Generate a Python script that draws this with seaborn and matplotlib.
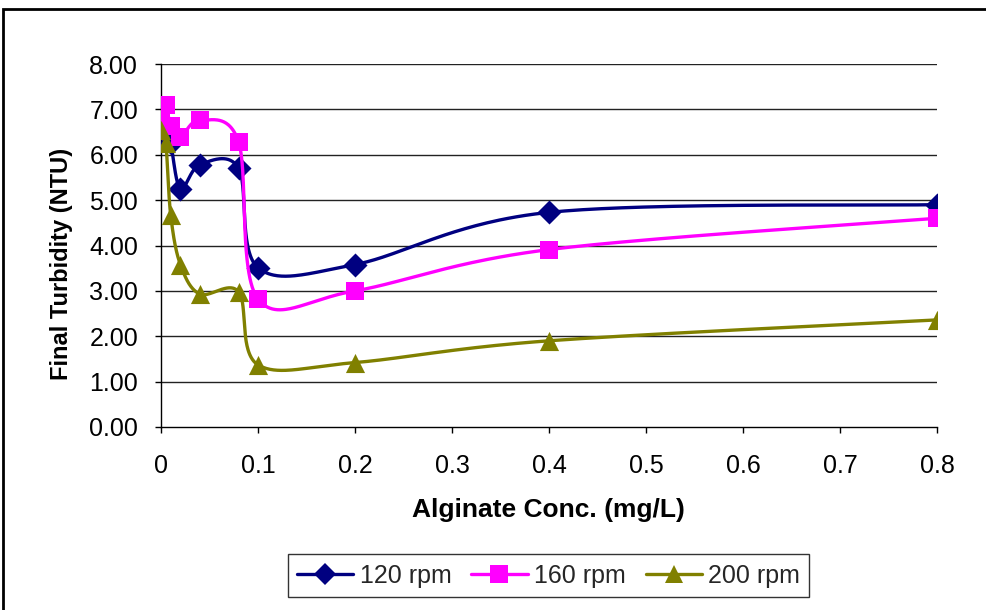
import numpy as np
import matplotlib
matplotlib.use("Agg")
import matplotlib.pyplot as plt
from matplotlib.lines import Line2D
from matplotlib.patches import Rectangle
import seaborn as sns

# Alginate dose (mg/L) and final turbidity (NTU) at three mixing speeds
alginate = [0, 0.005, 0.01, 0.02, 0.04, 0.08, 0.1, 0.2, 0.4, 0.8]
rpm_120 = [6.60, 6.50, 6.25, 5.25, 5.78, 5.70, 3.51, 3.58, 4.73, 4.90]
rpm_160 = [6.87, 7.10, 6.63, 6.40, 6.76, 6.28, 2.82, 3.00, 3.91, 4.60]
rpm_200 = [6.55, 6.25, 4.67, 3.58, 2.93, 2.98, 1.37, 1.42, 1.90, 2.36]

series_names = ["120 rpm", "160 rpm", "200 rpm"]
x_ticks = [0, 0.1, 0.2, 0.3, 0.4, 0.5, 0.6, 0.7, 0.8]
x_tick_labels = ["0", "0.1", "0.2", "0.3", "0.4", "0.5", "0.6", "0.7", "0.8"]
y_ticks = [0, 1, 2, 3, 4, 5, 6, 7, 8]

sns.set_theme(style="white")
plt.rcParams["font.family"] = ["Liberation Sans", "DejaVu Sans"]

W, H = 987, 610
fig = plt.figure(figsize=(W / 100, H / 100), dpi=100)
ax = fig.add_axes([161 / W, 1 - 427 / H, (937 - 161) / W, (427 - 64) / H])
ax.set_xlim(0, 0.8)
ax.set_ylim(0, 8)

# pixel scale of each axis, so the smoothing is done in screen space
ax_px_w = (937 - 161)
ax_px_h = (427 - 64)
sx = ax_px_w / 0.8
sy = ax_px_h / 8.0


def smooth_curve(xs, ys, n=60):
    """Cubic Bezier (Catmull-Rom) smoothing through every point."""
    P = np.column_stack([np.asarray(xs, float) * sx, np.asarray(ys, float) * sy])
    out = []
    last = len(P) - 1
    t = np.linspace(0, 1, n)[:, None]
    for i in range(last):
        p0 = P[max(i - 1, 0)]
        p1 = P[i]
        p2 = P[i + 1]
        p3 = P[min(i + 2, last)]
        c1 = p1 + (p2 - p0) / 6.0
        c2 = p2 - (p3 - p1) / 6.0
        seg = ((1 - t) ** 3) * p1 + 3 * ((1 - t) ** 2) * t * c1 \
            + 3 * (1 - t) * (t ** 2) * c2 + (t ** 3) * p2
        out.append(seg if i == 0 else seg[1:])
    pts = np.vstack(out)
    return pts[:, 0] / sx, pts[:, 1] / sy


styles = [
    (rpm_120, "#000080", "D", 150),
    (rpm_160, "#FF00FF", "s", 175),
    (rpm_200, "#808000", "^", 190),
]

# horizontal gridlines
for yv in y_ticks[1:]:
    ax.axhline(yv, color="#222222", lw=1.0, zorder=1)

z = 3
handles = []
for (vals, color, mk, size), name in zip(styles, series_names):
    cx, cy = smooth_curve(alginate, vals)
    sns.lineplot(x=cx, y=cy, sort=False, estimator=None, color=color,
                 lw=2.4, ax=ax, zorder=z)
    sns.scatterplot(x=alginate, y=vals, marker=mk, s=size, color=color,
                    edgecolor=color, linewidth=0, ax=ax, zorder=z + 1)
    z += 2
    handles.append(Line2D([0], [0], color=color, lw=2.4, marker=mk,
                          markersize=np.sqrt(size) * 0.95, markeredgewidth=0))

ax.set_xticks(x_ticks)
ax.set_xticklabels(x_tick_labels)
ax.set_yticks(y_ticks)
ax.set_yticklabels([f"{v:.2f}" for v in y_ticks])
ax.tick_params(axis="both", which="major", direction="out", length=4.5,
               width=1.0, color="black", labelsize=18, labelcolor="black",
               bottom=True, left=True)
ax.tick_params(axis="x", pad=15)
ax.tick_params(axis="y", pad=12)

for side in ("top", "right"):
    ax.spines[side].set_visible(False)
for side in ("left", "bottom"):
    ax.spines[side].set_color("black")
    ax.spines[side].set_linewidth(1.0)
ax.set_xlabel("")
ax.set_ylabel("")

fig.text(548 / W, 1 - 510 / H, "Alginate Conc. (mg/L)", ha="center",
         va="center", fontsize=19, fontweight="bold", color="black")
fig.text(62 / W, 1 - 264 / H, "Final Turbidity (NTU)", ha="center",
         va="center", rotation=90, fontsize=17, fontweight="bold", color="black")

leg = fig.legend(handles=handles, labels=series_names, loc="center",
                 bbox_to_anchor=(548.5 / W, 1 - 575.5 / H), ncol=3,
                 fontsize=18, frameon=True, fancybox=False, edgecolor="black",
                 handlelength=2.25, handletextpad=0.25, columnspacing=0.8,
                 borderpad=0.38, borderaxespad=0.0)
leg.get_frame().set_linewidth(1.0)

# outer chart frame
fig.add_artist(Rectangle((3 / W, -0.05), 1.2, 1 - 9 / H + 0.05,
                         transform=fig.transFigure, fill=False,
                         edgecolor="black", lw=2.0, clip_on=False))

fig.savefig("out.png", dpi=100, facecolor="white")
